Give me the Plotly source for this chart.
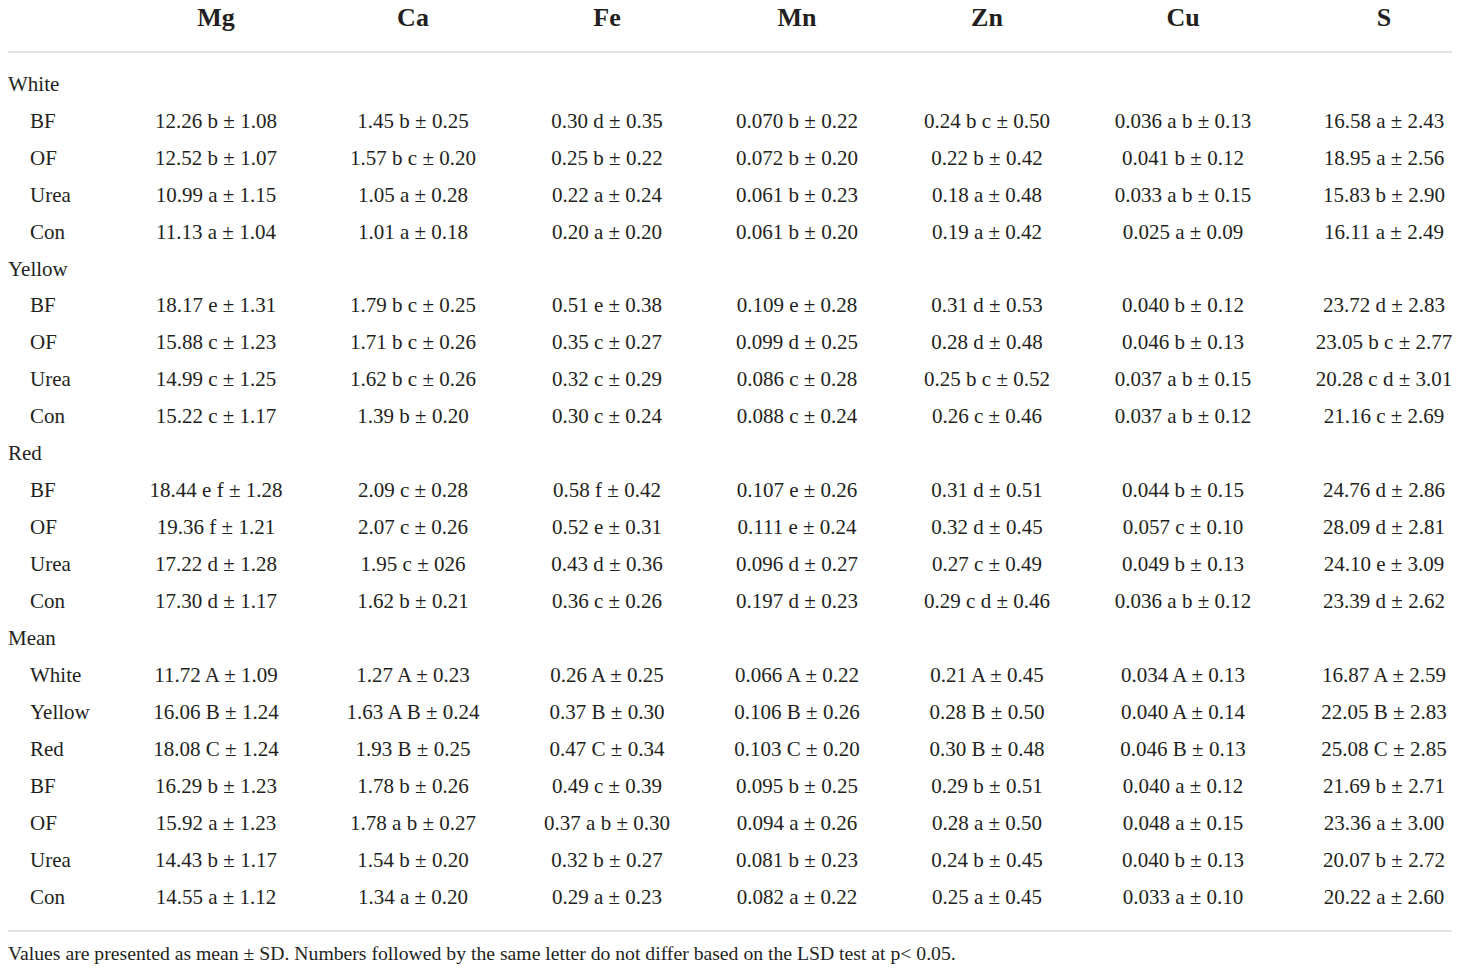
"""Table: mineral contents by cultivar colour and fertiliser (rendered as a Plotly text table)."""
import plotly.graph_objects as go

# ---- data ----
elements = ["Mg", "Ca", "Fe", "Mn", "Zn", "Cu", "S"]

row_labels = ["White", "BF", "OF", "Urea", "Con",
              "Yellow", "BF", "OF", "Urea", "Con",
              "Red", "BF", "OF", "Urea", "Con",
              "Mean", "White", "Yellow", "Red", "BF", "OF", "Urea", "Con"]
group_idx = [0, 5, 10, 15]

mg = ["", "12.26 b ± 1.08", "12.52 b ± 1.07", "10.99 a ± 1.15", "11.13 a ± 1.04",
      "", "18.17 e ± 1.31", "15.88 c ± 1.23", "14.99 c ± 1.25", "15.22 c ± 1.17",
      "", "18.44 e f ± 1.28", "19.36 f ± 1.21", "17.22 d ± 1.28", "17.30 d ± 1.17",
      "", "11.72 A ± 1.09", "16.06 B ± 1.24", "18.08 C ± 1.24", "16.29 b ± 1.23",
      "15.92 a ± 1.23", "14.43 b ± 1.17", "14.55 a ± 1.12"]
ca = ["", "1.45 b ± 0.25", "1.57 b c ± 0.20", "1.05 a ± 0.28", "1.01 a ± 0.18",
      "", "1.79 b c ± 0.25", "1.71 b c ± 0.26", "1.62 b c ± 0.26", "1.39 b ± 0.20",
      "", "2.09 c ± 0.28", "2.07 c ± 0.26", "1.95 c ± 026", "1.62 b ± 0.21",
      "", "1.27 A ± 0.23", "1.63 A B ± 0.24", "1.93 B ± 0.25", "1.78 b ± 0.26",
      "1.78 a b ± 0.27", "1.54 b ± 0.20", "1.34 a ± 0.20"]
fe = ["", "0.30 d ± 0.35", "0.25 b ± 0.22", "0.22 a ± 0.24", "0.20 a ± 0.20",
      "", "0.51 e ± 0.38", "0.35 c ± 0.27", "0.32 c ± 0.29", "0.30 c ± 0.24",
      "", "0.58 f ± 0.42", "0.52 e ± 0.31", "0.43 d ± 0.36", "0.36 c ± 0.26",
      "", "0.26 A ± 0.25", "0.37 B ± 0.30", "0.47 C ± 0.34", "0.49 c ± 0.39",
      "0.37 a b ± 0.30", "0.32 b ± 0.27", "0.29 a ± 0.23"]
mn = ["", "0.070 b ± 0.22", "0.072 b ± 0.20", "0.061 b ± 0.23", "0.061 b ± 0.20",
      "", "0.109 e ± 0.28", "0.099 d ± 0.25", "0.086 c ± 0.28", "0.088 c ± 0.24",
      "", "0.107 e ± 0.26", "0.111 e ± 0.24", "0.096 d ± 0.27", "0.197 d ± 0.23",
      "", "0.066 A ± 0.22", "0.106 B ± 0.26", "0.103 C ± 0.20", "0.095 b ± 0.25",
      "0.094 a ± 0.26", "0.081 b ± 0.23", "0.082 a ± 0.22"]
zn = ["", "0.24 b c ± 0.50", "0.22 b ± 0.42", "0.18 a ± 0.48", "0.19 a ± 0.42",
      "", "0.31 d ± 0.53", "0.28 d ± 0.48", "0.25 b c ± 0.52", "0.26 c ± 0.46",
      "", "0.31 d ± 0.51", "0.32 d ± 0.45", "0.27 c ± 0.49", "0.29 c d ± 0.46",
      "", "0.21 A ± 0.45", "0.28 B ± 0.50", "0.30 B ± 0.48", "0.29 b ± 0.51",
      "0.28 a ± 0.50", "0.24 b ± 0.45", "0.25 a ± 0.45"]
cu = ["", "0.036 a b ± 0.13", "0.041 b ± 0.12", "0.033 a b ± 0.15", "0.025 a ± 0.09",
      "", "0.040 b ± 0.12", "0.046 b ± 0.13", "0.037 a b ± 0.15", "0.037 a b ± 0.12",
      "", "0.044 b ± 0.15", "0.057 c ± 0.10", "0.049 b ± 0.13", "0.036 a b ± 0.12",
      "", "0.034 A ± 0.13", "0.040 A ± 0.14", "0.046 B ± 0.13", "0.040 a ± 0.12",
      "0.048 a ± 0.15", "0.040 b ± 0.13", "0.033 a ± 0.10"]
s = ["", "16.58 a ± 2.43", "18.95 a ± 2.56", "15.83 b ± 2.90", "16.11 a ± 2.49",
     "", "23.72 d ± 2.83", "23.05 b c ± 2.77", "20.28 c d ± 3.01", "21.16 c ± 2.69",
     "", "24.76 d ± 2.86", "28.09 d ± 2.81", "24.10 e ± 3.09", "23.39 d ± 2.62",
     "", "16.87 A ± 2.59", "22.05 B ± 2.83", "25.08 C ± 2.85", "21.69 b ± 2.71",
     "23.36 a ± 3.00", "20.07 b ± 2.72", "20.22 a ± 2.60"]

footnote = ("Values are presented as mean ± SD. Numbers followed by the same letter "
            "do not differ based on the LSD test at p< 0.05.")

columns = [mg, ca, fe, mn, zn, cu, s]

# ---- layout constants (pixel-like units) ----
W, H = 1460, 972
COL_X = [216, 413, 607, 797, 987, 1183, 1384]
HEADER_Y = 19
FIRST_ROW_Y = 85.5
ROW_STEP = 36.95
GROUP_X, SUB_X = 8, 30
FONT = "Liberation Serif"
INK = "#231f20"
RULE = "#c8c8c8"
CELL_SIZE = 21

row_y = [FIRST_ROW_Y + i * ROW_STEP for i in range(len(row_labels))]

fig = go.Figure()

# column headers
fig.add_trace(go.Scatter(
    x=COL_X, y=[HEADER_Y] * len(elements), mode="text",
    text=["<b>%s</b>" % e for e in elements], textposition="middle center",
    textfont=dict(family=FONT, size=26, color=INK), hoverinfo="skip"))

# row labels (group headings flush left, sub-rows indented)
label_x = [GROUP_X if i in group_idx else SUB_X for i in range(len(row_labels))]
fig.add_trace(go.Scatter(
    x=label_x, y=row_y, mode="text", text=row_labels, textposition="middle right",
    textfont=dict(family=FONT, size=CELL_SIZE, color=INK), hoverinfo="skip"))

# cell values
for cx, col in zip(COL_X, columns):
    fig.add_trace(go.Scatter(
        x=[cx] * len(col), y=row_y, mode="text", text=col,
        textposition="middle center",
        textfont=dict(family=FONT, size=CELL_SIZE, color=INK), hoverinfo="skip"))

# footnote
fig.add_trace(go.Scatter(
    x=[GROUP_X], y=[955], mode="text", text=[footnote], textposition="middle right",
    textfont=dict(family=FONT, size=19.7, color=INK), hoverinfo="skip"))

# horizontal rules
for yy in (52, 931):
    fig.add_shape(type="line", x0=8, x1=1452, y0=yy, y1=yy, xref="x", yref="y",
                  line=dict(color=RULE, width=1))

fig.update_layout(
    width=W, height=H, margin=dict(l=0, r=0, t=0, b=0),
    paper_bgcolor="white", plot_bgcolor="white", showlegend=False,
    xaxis=dict(range=[0, W], visible=False, fixedrange=True),
    yaxis=dict(range=[H, 0], visible=False, fixedrange=True),
)

fig.write_html("out.html", post_script="document.body.style.margin='0';",
               config={"displayModeBar": False})
